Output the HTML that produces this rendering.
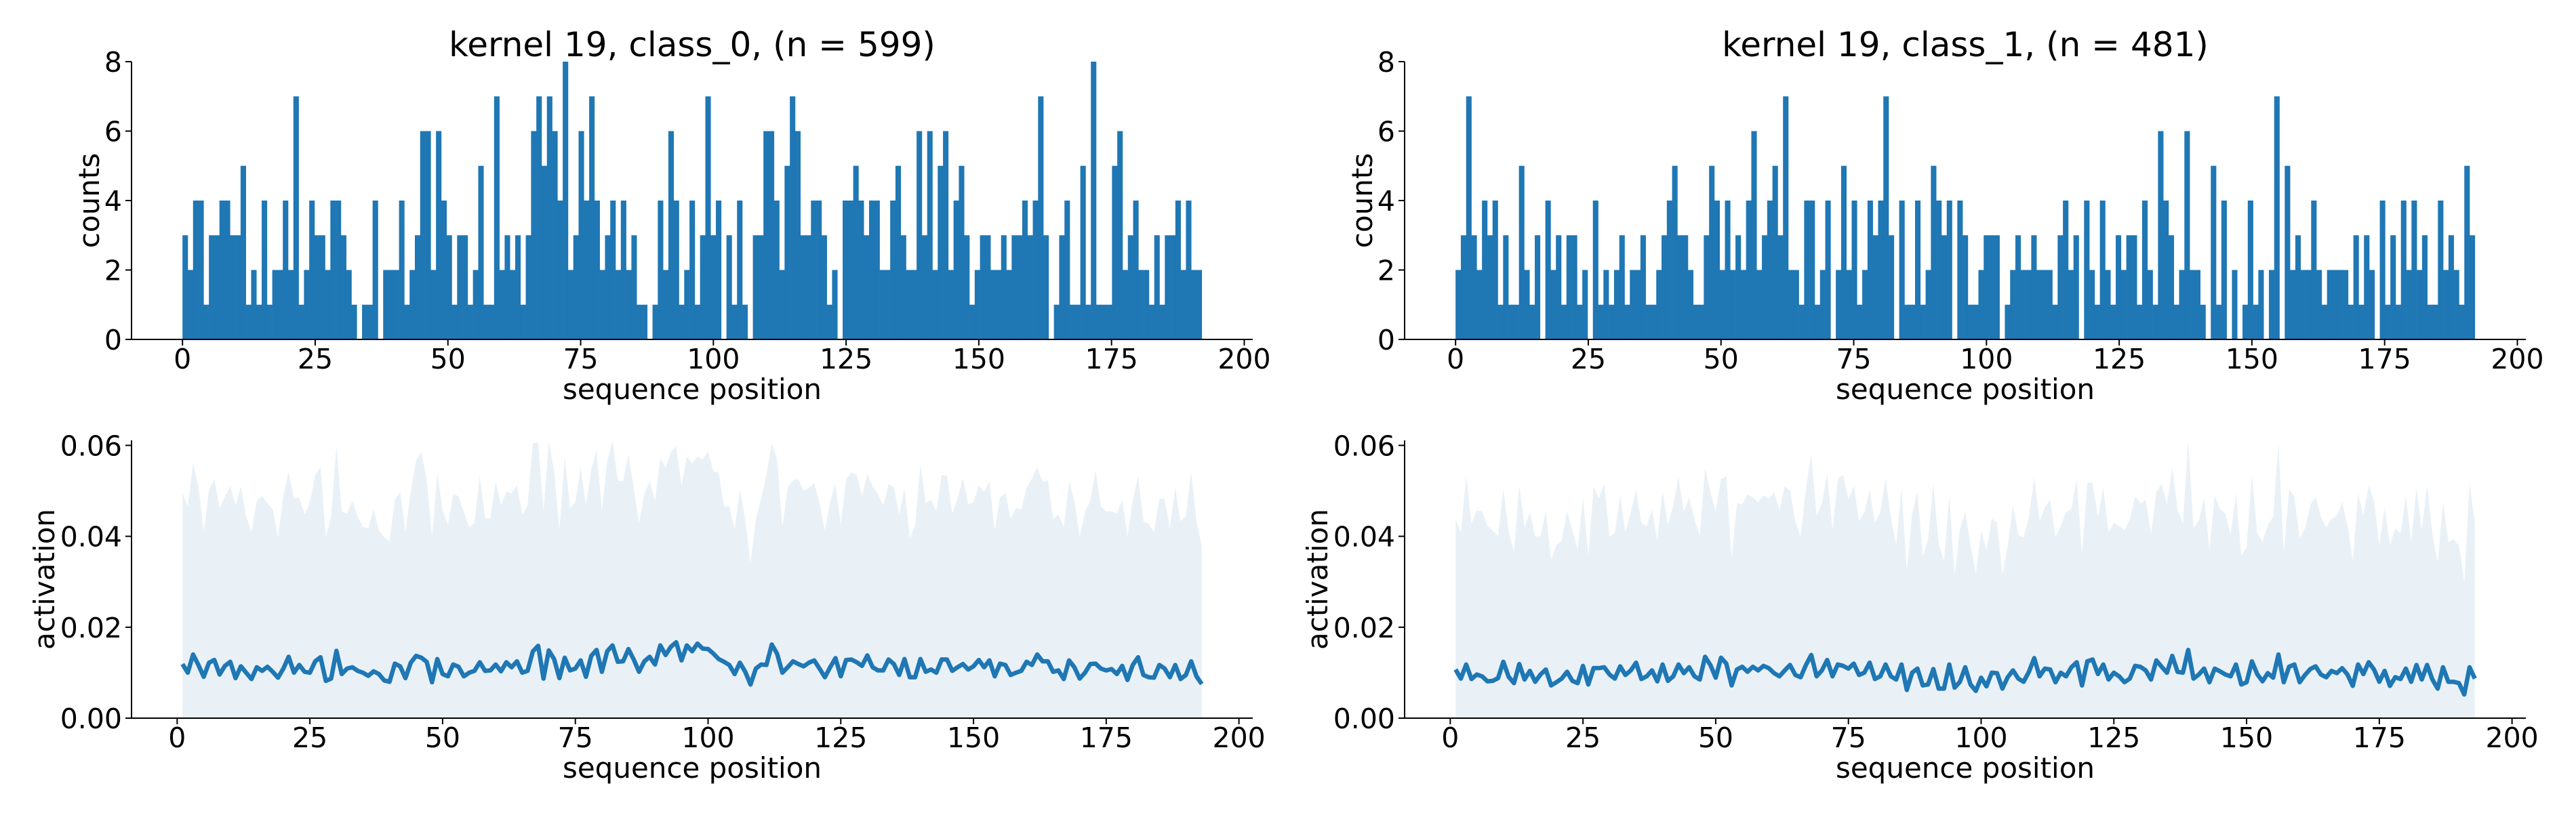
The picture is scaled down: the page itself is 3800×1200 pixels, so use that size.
<!DOCTYPE html>
<html>
<head>
<meta charset="utf-8">
<style>
  html, body { margin: 0; padding: 0; background: #ffffff; }
  svg { display: block; font-family: "DejaVu Sans", "Liberation Sans", sans-serif; }
</style>
</head>
<body>
<svg id="chart" xmlns="http://www.w3.org/2000/svg" width="3800" height="1200" viewBox="0 0 3800 1200"></svg>
<script>
// ---------------- data ----------------
const xTicks = [0, 25, 50, 75, 100, 125, 150, 175, 200];
const countTicks = [0, 2, 4, 6, 8];
const actTicks = [0, 0.02, 0.04, 0.06];
const actTickLabels = ["0.00", "0.02", "0.04", "0.06"];
const titles = ["kernel 19, class_0, (n = 599)", "kernel 19, class_1, (n = 481)"];

const hist0 = [3,2,4,4,1,3,3,4,4,3, 3,5,1,2,1,4,1,2,2,4, 2,7,1,2,4,3,3,2,4,4, 3,2,1,0,1,1,4,0,2,2,
  2,4,1,2,3,6,6,2,6,4, 3,1,3,3,1,2,5,1,1,7, 2,3,2,3,1,3,6,7,5,7, 6,4,8,2,3,6,4,7,4,2,
  3,4,2,4,2,3,1,1,0,1, 4,2,6,4,1,2,4,1,3,7, 3,4,0,3,1,4,1,0,3,3, 6,6,4,2,5,7,6,3,3,4,
  4,3,1,2,0,4,4,5,4,3, 4,4,2,2,4,5,3,2,2,6, 3,6,2,5,6,2,4,5,3,1, 2,3,3,2,2,3,2,3,3,4,
  3,4,7,3,0,1,3,4,1,1, 5,1,8,1,1,1,5,6,2,3, 4,2,2,1,3,1,3,3,4,2, 4,2,2];
const hist1 = [2,3,7,3,2,4,3,4,1,3, 1,1,5,2,1,3,0,4,2,3, 1,3,3,1,2,0,4,1,2,1, 2,3,1,2,2,3,1,1,2,3,
  4,5,3,3,2,1,1,3,5,4, 2,4,2,3,2,4,6,2,3,4, 5,3,7,2,2,1,4,4,1,2, 4,0,2,5,2,4,1,2,4,3,
  4,7,3,0,4,1,1,4,1,2, 5,4,3,4,0,4,3,1,1,2, 3,3,3,0,1,2,3,2,2,3, 2,2,2,1,3,4,2,3,0,4,
  2,1,4,2,1,3,2,3,3,1, 4,2,1,6,4,3,1,2,6,2, 2,1,0,5,1,4,0,2,0,1, 4,1,2,0,2,7,0,5,2,3,
  2,2,4,2,1,2,2,2,2,1, 3,1,3,2,0,4,1,3,1,4, 2,4,2,3,1,1,4,2,3,2, 1,5,3];
const histRange = [0, 192];

const mean0 = [.0119,.0100,.0140,.0117,.0091,.0122,.0128,.0096,.0115,.0124,
 .0088,.0114,.0100,.0086,.0112,.0104,.0113,.0102,.0089,.0109,
 .0135,.0100,.0117,.0102,.0100,.0125,.0134,.0082,.0087,.0148,
 .0097,.0109,.0112,.0104,.0100,.0093,.0103,.0097,.0083,.0080,
 .0120,.0114,.0088,.0122,.0137,.0133,.0124,.0079,.0130,.0097,
 .0092,.0118,.0113,.0092,.0100,.0104,.0123,.0104,.0105,.0118,
 .0103,.0123,.0112,.0125,.0100,.0104,.0147,.0159,.0087,.0149,
 .0130,.0088,.0133,.0105,.0109,.0127,.0091,.0137,.0150,.0102,
 .0147,.0160,.0124,.0125,.0152,.0129,.0102,.0125,.0135,.0118,
 .0160,.0139,.0157,.0167,.0127,.0160,.0147,.0164,.0153,.0152,
 .0142,.0130,.0124,.0117,.0097,.0122,.0102,.0074,.0109,.0118,
 .0117,.0162,.0142,.0100,.0112,.0125,.0119,.0114,.0122,.0127,
 .0109,.0090,.0112,.0132,.0092,.0128,.0129,.0123,.0115,.0138,
 .0112,.0105,.0105,.0129,.0119,.0095,.0130,.0090,.0090,.0130,
 .0102,.0107,.0100,.0129,.0129,.0104,.0112,.0119,.0107,.0114,
 .0128,.0112,.0127,.0092,.0120,.0117,.0095,.0100,.0104,.0124,
 .0117,.0140,.0125,.0125,.0102,.0105,.0086,.0127,.0112,.0087,
 .0100,.0119,.0120,.0109,.0105,.0108,.0097,.0115,.0084,.0117,
 .0134,.0095,.0090,.0089,.0117,.0109,.0090,.0117,.0086,.0095,
 .0125,.0092,.0075];
const upper0 = [.0495,.0465,.0562,.0510,.0410,.0502,.0525,.0463,.0488,.0510,
 .0468,.0510,.0443,.0410,.0478,.0488,.0473,.0460,.0398,.0490,
 .0541,.0483,.0485,.0448,.0475,.0535,.0552,.0398,.0443,.0600,
 .0455,.0450,.0478,.0443,.0420,.0418,.0460,.0413,.0398,.0388,
 .0480,.0498,.0410,.0498,.0567,.0585,.0525,.0396,.0540,.0458,
 .0425,.0493,.0488,.0453,.0420,.0430,.0532,.0440,.0440,.0520,
 .0468,.0498,.0495,.0512,.0448,.0468,.0605,.0606,.0455,.0607,
 .0545,.0413,.0575,.0462,.0475,.0552,.0468,.0547,.0590,.0455,
 .0565,.0609,.0523,.0521,.0580,.0507,.0428,.0495,.0520,.0478,
 .0572,.0550,.0585,.0598,.0512,.0575,.0560,.0575,.0570,.0587,
 .0543,.0540,.0466,.0466,.0415,.0505,.0438,.0341,.0438,.0483,
 .0535,.0605,.0570,.0420,.0507,.0523,.0526,.0500,.0507,.0517,
 .0473,.0413,.0475,.0517,.0425,.0525,.0541,.0536,.0490,.0537,
 .0510,.0493,.0468,.0515,.0507,.0448,.0505,.0396,.0423,.0557,
 .0473,.0480,.0455,.0535,.0533,.0450,.0483,.0528,.0470,.0475,
 .0512,.0498,.0520,.0413,.0485,.0495,.0438,.0463,.0460,.0507,
 .0527,.0552,.0520,.0523,.0438,.0448,.0420,.0520,.0478,.0398,
 .0453,.0478,.0545,.0465,.0455,.0455,.0450,.0480,.0400,.0480,
 .0533,.0433,.0428,.0408,.0483,.0482,.0418,.0507,.0433,.0445,
 .0541,.0433,.0378];
const mean1 = [.0107,.0087,.0118,.0086,.0096,.0092,.0081,.0082,.0088,.0124,
 .0091,.0077,.0119,.0085,.0104,.0080,.0096,.0107,.0072,.0079,
 .0087,.0102,.0082,.0077,.0115,.0074,.0110,.0110,.0112,.0096,
 .0087,.0114,.0095,.0105,.0122,.0086,.0092,.0105,.0081,.0118,
 .0082,.0092,.0118,.0099,.0112,.0092,.0085,.0135,.0117,.0089,
 .0133,.0120,.0072,.0107,.0113,.0102,.0113,.0105,.0115,.0110,
 .0099,.0092,.0105,.0117,.0095,.0090,.0117,.0139,.0092,.0105,
 .0128,.0092,.0118,.0115,.0109,.0120,.0095,.0100,.0122,.0086,
 .0092,.0118,.0092,.0085,.0118,.0062,.0100,.0109,.0072,.0074,
 .0108,.0065,.0065,.0118,.0067,.0080,.0112,.0074,.0060,.0089,
 .0070,.0100,.0099,.0065,.0090,.0105,.0087,.0080,.0102,.0132,
 .0092,.0109,.0107,.0079,.0100,.0092,.0112,.0123,.0072,.0125,
 .0129,.0097,.0118,.0085,.0100,.0092,.0079,.0087,.0115,.0113,
 .0105,.0085,.0127,.0113,.0100,.0137,.0102,.0100,.0150,.0087,
 .0096,.0109,.0079,.0109,.0103,.0096,.0092,.0118,.0074,.0079,
 .0125,.0097,.0081,.0099,.0089,.0140,.0079,.0113,.0118,.0079,
 .0095,.0108,.0114,.0096,.0090,.0104,.0099,.0110,.0096,.0071,
 .0118,.0097,.0123,.0107,.0080,.0104,.0071,.0090,.0086,.0109,
 .0080,.0117,.0085,.0117,.0085,.0065,.0112,.0080,.0080,.0077,
 .0052,.0112,.0087];
const upper1 = [.0438,.0408,.0532,.0428,.0457,.0455,.0423,.0413,.0400,.0505,
 .0410,.0366,.0512,.0420,.0453,.0400,.0400,.0455,.0348,.0381,
 .0391,.0455,.0413,.0371,.0485,.0358,.0508,.0483,.0517,.0399,
 .0408,.0490,.0410,.0453,.0502,.0429,.0423,.0458,.0391,.0500,
 .0425,.0468,.0530,.0455,.0485,.0438,.0400,.0550,.0498,.0453,
 .0526,.0532,.0351,.0473,.0470,.0493,.0485,.0475,.0490,.0483,
 .0497,.0458,.0510,.0500,.0433,.0398,.0507,.0580,.0445,.0473,
 .0537,.0413,.0527,.0536,.0480,.0512,.0433,.0453,.0502,.0430,
 .0453,.0527,.0440,.0381,.0508,.0323,.0450,.0498,.0356,.0393,
 .0515,.0383,.0346,.0490,.0313,.0415,.0455,.0380,.0318,.0413,
 .0368,.0439,.0430,.0316,.0378,.0468,.0403,.0398,.0443,.0530,
 .0433,.0463,.0480,.0398,.0423,.0453,.0460,.0525,.0358,.0518,
 .0518,.0443,.0507,.0408,.0430,.0423,.0413,.0438,.0488,.0473,
 .0480,.0405,.0498,.0515,.0470,.0552,.0458,.0428,.0612,.0418,
 .0435,.0485,.0371,.0490,.0460,.0450,.0403,.0495,.0356,.0376,
 .0535,.0408,.0388,.0425,.0443,.0605,.0361,.0503,.0488,.0396,
 .0418,.0470,.0487,.0443,.0420,.0438,.0445,.0475,.0425,.0346,
 .0495,.0445,.0512,.0478,.0381,.0463,.0381,.0418,.0405,.0490,
 .0388,.0507,.0413,.0512,.0405,.0343,.0475,.0388,.0393,.0381,
 .0299,.0515,.0430];

// ---------------- drawing ----------------
const NS = "http://www.w3.org/2000/svg";
const svg = document.getElementById("chart");
const BLUE = "#1f77b4";
const FILL = "#e9f1f7";
const TICK_FS = 41, LABEL_FS = 42, TITLE_FS = 50;
const AX_L = 194, AX_R = 1848, COL_OFF = 1878;

function mk(tag, attrs, parent) {
  const el = document.createElementNS(NS, tag);
  for (const k in attrs) el.setAttribute(k, attrs[k]);
  (parent || svg).appendChild(el);
  return el;
}
function scale(d0, d1, r0, r1) {
  return v => r0 + (v - d0) / (d1 - d0) * (r1 - r0);
}

function drawAxes(g, box, sx, sy, yT, yLab, xlabText, ylabText, ylabX) {
  yT.forEach((t, i) => {
    const y = sy(t);
    const tk = mk("line", {x1: box.l - 9, x2: box.l, y1: y, y2: y, stroke: "#000", "stroke-width": 2}, g);
    
    
    const tx = mk("text", {x: box.l - 14, y: y + 15, "text-anchor": "end", "font-size": TICK_FS, fill: "#000"}, g);
    
    
    tx.textContent = yLab[i];
  });
  xTicks.forEach(t => {
    const x = sx(t);
    const tk = mk("line", {x1: x, x2: x, y1: box.b, y2: box.b + 9, stroke: "#000", "stroke-width": 2}, g);
    
    
    const tx = mk("text", {x: x, y: box.b + 43, "text-anchor": "middle", "font-size": TICK_FS, fill: "#000"}, g);
    
    
    tx.textContent = String(t);
  });
  const sl = mk("line", {x1: box.l, x2: box.l, y1: box.t, y2: box.b + 1, stroke: "#000", "stroke-width": 2}, g);
  
  
  const sb = mk("line", {x1: box.l - 1, x2: box.r, y1: box.b, y2: box.b, stroke: "#000", "stroke-width": 2}, g);
  
  
  const xl = mk("text", {x: (box.l + box.r) / 2, y: box.b + 88, "text-anchor": "middle", "font-size": LABEL_FS, fill: "#000"}, g);
  
  
  xl.textContent = xlabText;
  const cy = (box.t + box.b) / 2;
  const yl = mk("text", {x: ylabX, y: cy, "text-anchor": "middle", "font-size": LABEL_FS, fill: "#000",
    transform: "rotate(-90 " + ylabX + " " + cy + ")"}, g);
  
  
  yl.textContent = ylabText;
}

function drawHist(col, counts, title) {
  const off = col * COL_OFF;
  const box = {l: AX_L + off, r: AX_R + off, t: 91, b: 501};
  const g = mk("g", {});
  
  
  const n = counts.length;
  const lo = histRange[0], hi = histRange[1];
  const w = (hi - lo) / n;
  const pad = (hi - lo) * 0.05;
  const sx = scale(lo - pad, hi + pad, box.l, box.r);
  const sy = scale(0, 8, box.b, box.t);
  counts.forEach((c, i) => {
    if (c <= 0) return;
    const x0 = sx(lo + i * w), x1 = sx(lo + (i + 1) * w);
    const r = mk("rect", {x: x0, y: sy(c), width: x1 - x0 + 0.3, height: sy(0) - sy(c), fill: BLUE}, g);
    
    
  });
  drawAxes(g, box, sx, sy, countTicks, countTicks.map(String), "sequence position", "counts", 146 + off);
  const tt = mk("text", {x: (box.l + box.r) / 2, y: 83, "text-anchor": "middle", "font-size": TITLE_FS, fill: "#000"}, g);
  
  
  tt.textContent = title;
}

function drawAct(col, mean, upper) {
  const off = col * COL_OFF;
  const box = {l: AX_L + off, r: AX_R + off, t: 650, b: 1060};
  const g = mk("g", {});
  
  
  const n = mean.length;
  const pad = (n - 1) * 0.05;
  const sx = scale(1 - pad, n + pad, box.l, box.r);
  const sy = scale(0, 0.0611, box.b, box.t);
  let d = "M" + sx(1) + "," + sy(0);
  upper.forEach((u, i) => { d += " L" + sx(i + 1) + "," + sy(u); });
  d += " L" + sx(upper.length) + "," + sy(0) + " Z";
  const area = mk("path", {d: d, fill: FILL, stroke: "none"}, g);
  
  
  const pts = mean.map((m, i) => sx(i + 1) + "," + sy(m)).join(" ");
  const line = mk("polyline", {points: pts, fill: "none", stroke: BLUE, "stroke-width": 6.5, "stroke-linejoin": "round"}, g);
  
  
  drawAxes(g, box, sx, sy, actTicks, actTickLabels, "sequence position", "activation", 80 + off);
}

drawHist(0, hist0, titles[0]);
drawHist(1, hist1, titles[1]);
drawAct(0, mean0, upper0);
drawAct(1, mean1, upper1);
</script>
</body>
</html>
